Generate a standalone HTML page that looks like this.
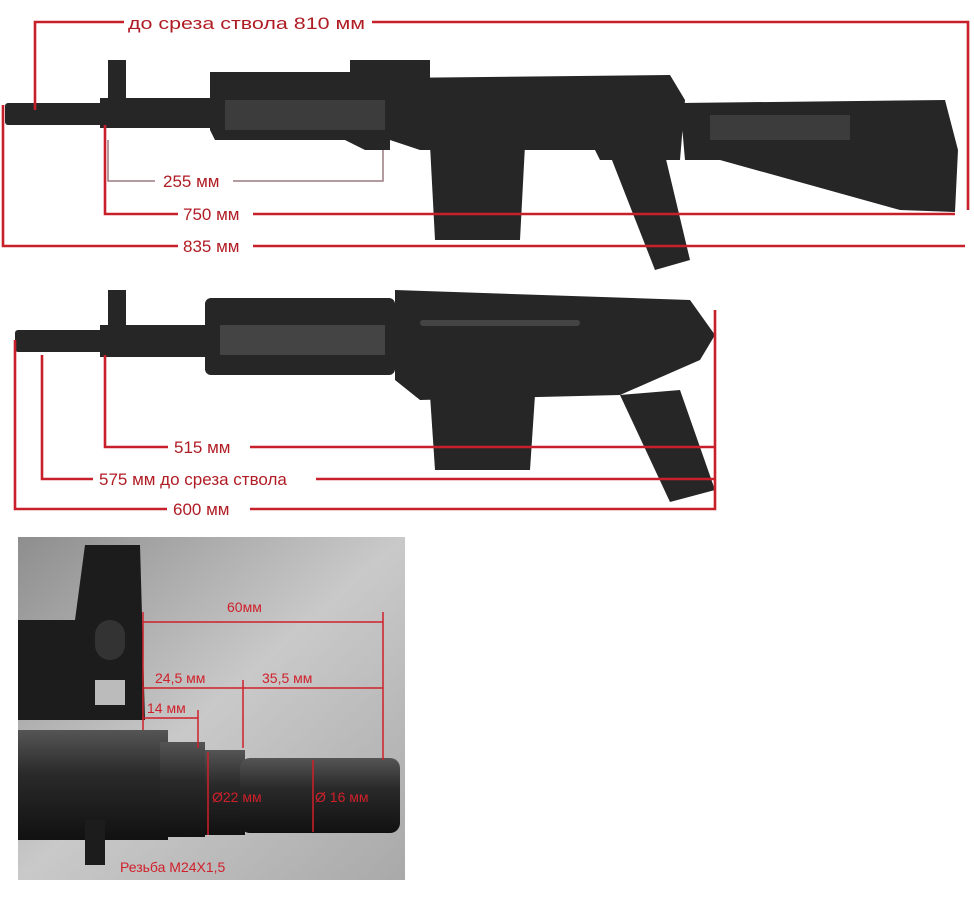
<!DOCTYPE html>
<html><head><meta charset="utf-8"><style>
html,body{margin:0;padding:0;background:#fff;}
body{width:974px;height:898px;overflow:hidden;position:relative;font-family:"Liberation Sans",sans-serif;}
svg{position:absolute;left:0;top:0;}
</style></head><body>
<svg width="974" height="898" viewBox="0 0 974 898" font-family="Liberation Sans, sans-serif">
<defs>
<linearGradient id="bg" x1="0" y1="0" x2="1" y2="1">
<stop offset="0" stop-color="#8e8e8e"/><stop offset="0.5" stop-color="#c9c9c9"/><stop offset="1" stop-color="#a9a9a9"/>
</linearGradient>
<linearGradient id="brl" x1="0" y1="0" x2="0" y2="1">
<stop offset="0" stop-color="#555"/><stop offset="0.4" stop-color="#2a2a2a"/><stop offset="1" stop-color="#111"/>
</linearGradient>
</defs>

<!-- ===== Rifle 1 ===== -->
<g fill="#262626">
<rect x="5" y="103" width="100" height="22" rx="3"/>
<rect x="100" y="98" width="115" height="30"/>
<rect x="108" y="60" width="18" height="42"/>
<path d="M210 72 L390 72 L390 150 L365 150 L345 140 L215 140 L210 130 Z"/>
<path d="M390 78 L670 75 L685 100 L680 160 L600 160 L595 150 L420 150 L390 140 Z"/>
<path d="M430 145 L525 145 L520 240 L435 240 Z"/>
<path d="M610 155 L665 155 L690 260 L655 270 Z"/>
<path d="M680 103 L945 100 L958 150 L955 212 L900 210 L720 160 L685 160 Z"/>
<rect x="350" y="60" width="80" height="18"/>
</g>
<g fill="#3c3c3c"><rect x="225" y="100" width="160" height="30"/><rect x="710" y="115" width="140" height="25"/></g>

<!-- ===== Rifle 2 ===== -->
<g fill="#262626">
<rect x="15" y="330" width="95" height="22" rx="3"/>
<rect x="100" y="325" width="110" height="32"/>
<rect x="108" y="290" width="18" height="40"/>
<rect x="205" y="298" width="190" height="77" rx="6"/>
<path d="M395 290 L690 300 L715 335 L700 360 L620 395 L420 400 L395 380 Z"/>
<path d="M430 395 L535 395 L530 470 L435 470 Z"/>
<path d="M620 395 L680 390 L715 490 L670 502 Z"/>
</g>
<g fill="#444"><rect x="420" y="320" width="160" height="6" rx="3"/><rect x="220" y="325" width="165" height="30"/></g>

<!-- ===== Red dimension lines ===== -->
<g stroke="#c8202a" stroke-width="2.6" fill="none">
<path d="M35 110 V22 H124 M372 22 H968 V210"/>
<path d="M105 125 V214 H178 M253 214 H955"/>
<path d="M3 105 V246 H178 M253 246 H965"/>
<path d="M105 355 V447 H168 M250 447 H715"/>
<path d="M42 355 V479 H93 M316 479 H715"/>
<path d="M15 340 V509 H167 M250 509 H715 V310"/>
</g>
<path d="M108 140 V181 H155 M233 181 H383 V150" stroke="#9a7a80" stroke-width="1.5" fill="none"/>
<g fill="#b01c24" font-size="17">
<text x="128" y="29" textLength="237" lengthAdjust="spacingAndGlyphs">до среза ствола  810 мм</text>
<text x="163" y="187">255 мм</text>
<text x="183" y="220">750 мм</text>
<text x="183" y="252">835 мм</text>
<text x="174" y="453">515 мм</text>
<text x="99" y="485">575 мм до среза ствола</text>
<text x="173" y="515">600 мм</text>
</g>

<!-- ===== Photo ===== -->
<rect x="18" y="537" width="387" height="343" fill="url(#bg)"/>
<g fill="#1c1c1c">
<path d="M18 620 L75 620 L85 545 L140 545 L145 720 L18 720 Z"/>
<rect x="18" y="730" width="150" height="110" fill="url(#brl)"/>
<rect x="160" y="742" width="45" height="95" fill="url(#brl)"/>
<rect x="205" y="750" width="40" height="85" fill="url(#brl)"/>
<rect x="240" y="758" width="160" height="75" rx="10" fill="url(#brl)"/>
<rect x="85" y="820" width="20" height="45"/>
</g>
<rect x="95" y="620" width="30" height="40" rx="15" fill="#333"/>
<rect x="95" y="680" width="30" height="25" fill="#bbb"/>
<g stroke="#d0202a" stroke-width="1.5" fill="none">
<path d="M143 622 H383 M143 688 H243 M243 688 H383 M143 718 H198"/>
<path d="M143 612 V730 M383 612 V760 M243 680 V748 M198 710 V748"/>
<path d="M208 752 V835 M313 760 V832"/>
</g>
<g fill="#d0202a" font-size="14">
<text x="227" y="612">60мм</text>
<text x="155" y="683">24,5 мм</text>
<text x="262" y="683">35,5 мм</text>
<text x="147" y="713">14 мм</text>
<text x="212" y="802">Ø22 мм</text>
<text x="315" y="802">Ø 16 мм</text>
<text x="120" y="872">Резьба М24Х1,5</text>
</g>
</svg>
</body></html>
